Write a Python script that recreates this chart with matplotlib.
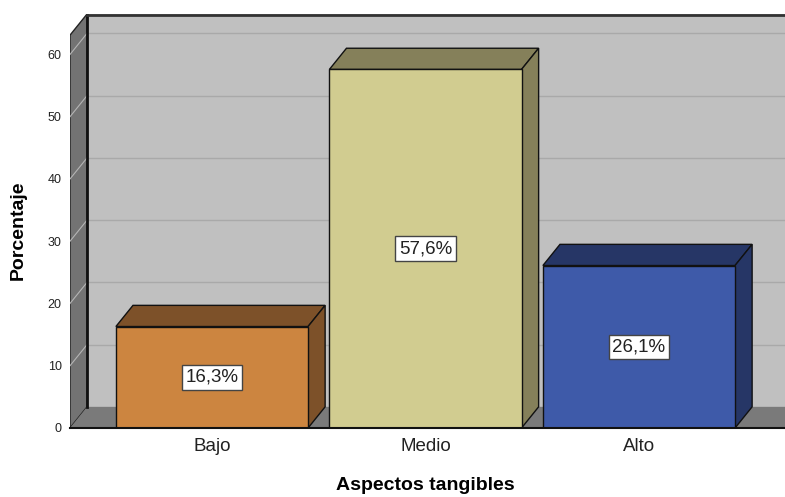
import matplotlib
matplotlib.use('Agg')
import matplotlib.pyplot as plt
from matplotlib.patches import Polygon, Rectangle

plt.rcParams['font.family'] = ['Liberation Sans', 'DejaVu Sans']

# --- data
categorias = ['Bajo', 'Medio', 'Alto']
porcentajes = [16.3, 57.6, 26.1]
etiquetas = ['16,3%', '57,6%', '26,1%']
yticks = [0, 10, 20, 30, 40, 50, 60]

# colours: front face, top/side face
cara = ['#cc8540', '#d1cc90', '#3e5aa9']
sombra = ['#7d5129', '#85805a', '#263666']

# depth of the 3d effect (in data units)
ddx = 0.08
ddy = 3.4
ancho = 0.9

xmin, xmax = -0.665, 2.684
ymin, ymax = 0, 66.5
ytop = ymax - ddy

fig = plt.figure(figsize=(7.85, 4.97), dpi=100)
ax = fig.add_axes([70/785, 69/497, 715/785, 414/497])
ax.set_xlim(xmin, xmax)
ax.set_ylim(ymin, ymax)
for s in ax.spines.values():
    s.set_visible(False)

# back wall
ax.add_patch(Rectangle((xmin + ddx, ddy), xmax - xmin, ymax - ddy,
                       facecolor='#c0c0c0', edgecolor='none', zorder=0))
for t in yticks[1:]:
    ax.plot([xmin + ddx, xmax + 1], [t + ddy, t + ddy], color='#a9a9a9', lw=1, zorder=1)

# left wall
ax.add_patch(Polygon([(xmin, 0), (xmin, ytop), (xmin + ddx, ymax), (xmin + ddx, ddy)],
                     closed=True, facecolor='#737373', edgecolor='#222222', lw=1, zorder=2))
for t in yticks[1:]:
    ax.plot([xmin, xmin + ddx], [t, t + ddy], color='#b5b5b5', lw=0.8, zorder=3)
ax.plot([xmin + ddx, xmin + ddx], [ddy, ymax], color='#111111', lw=2, zorder=4)
ax.plot([xmin + ddx, xmax + 1], [ymax - 0.2, ymax - 0.2], color='#333333', lw=2, zorder=4, clip_on=False)

# floor
ax.add_patch(Polygon([(xmin, 0), (xmax + 1, 0), (xmax + 1 + ddx, ddy), (xmin + ddx, ddy)],
                     closed=True, facecolor='#7a7a7a', edgecolor='none', zorder=2))
ax.plot([xmin, xmax + 1], [0, 0], color='#111111', lw=1.5, zorder=6, clip_on=False)

# bars
for i, v in enumerate(porcentajes):
    x0 = i - ancho / 2
    x1 = i + ancho / 2
    ax.add_patch(Polygon([(x0, v), (x1, v), (x1 + ddx, v + ddy), (x0 + ddx, v + ddy)],
                         closed=True, facecolor=sombra[i], edgecolor='#111111', lw=1, zorder=5))
    ax.add_patch(Polygon([(x1, 0), (x1, v), (x1 + ddx, v + ddy), (x1 + ddx, ddy)],
                         closed=True, facecolor=sombra[i], edgecolor='#111111', lw=1, zorder=5))
    ax.add_patch(Rectangle((x0, 0), ancho, v, facecolor=cara[i],
                           edgecolor='#111111', lw=1, zorder=5))
    ax.text(i, v / 2, etiquetas[i], ha='center', va='center', fontsize=13.5, zorder=7,
            color='#222222',
            bbox=dict(boxstyle='square,pad=0.2', facecolor='white', edgecolor='#444444', lw=1))

ax.set_yticks(yticks)
ax.set_yticklabels([str(t) for t in yticks], fontsize=9, color='#222222')
ax.set_xticks(range(len(categorias)))
ax.set_xticklabels(categorias, fontsize=13.5, color='#222222')
ax.tick_params(axis='y', length=0, pad=6)
ax.tick_params(axis='x', length=0, pad=7)

ax.set_xlabel('Aspectos tangibles', fontsize=14, fontweight='bold')
ax.set_ylabel('Porcentaje', fontsize=14, fontweight='bold')
ax.xaxis.set_label_coords(0.4965, -0.118)
ax.yaxis.set_label_coords(-0.060, 0.478)

fig.savefig('out.png', dpi=100)
